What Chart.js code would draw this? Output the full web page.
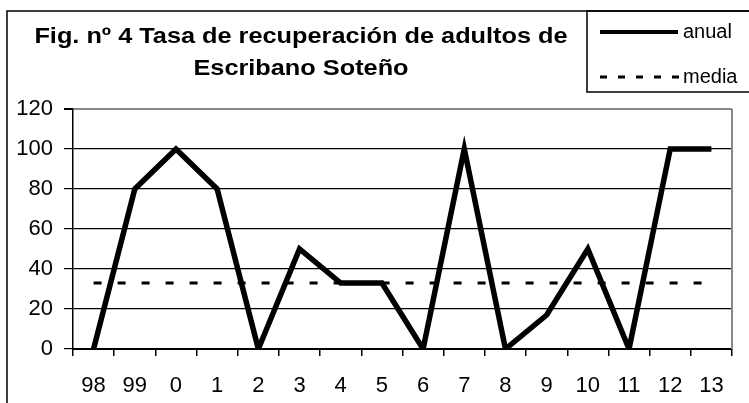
<!DOCTYPE html>
<html lang="es">
<head>
  <meta charset="utf-8">
  <script src="https://cdn.jsdelivr.net/npm/chart.js@4.4.0/dist/chart.umd.min.js"></script>
  <style>
    html, body { margin: 0; padding: 0; background: #fff; }
    .wrap { width: 749px; height: 403px; }
  </style>
</head>
<body>
  <div class="wrap">
    <canvas id="tasaChart" width="749" height="403"></canvas>
  </div>

  <script>
    // datos
    const years = ['98', '99', '0', '1', '2', '3', '4', '5', '6', '7', '8', '9', '10', '11', '12', '13'];
    const anual = [0, 80, 100, 80, 0, 50, 33, 33, 0, 100, 0, 17, 50, 0, 100, 100];
    const media = [33, 33, 33, 33, 33, 33, 33, 33, 33, 33, 33, 33, 33, 33, 33, 33];
    const yTicks = [0, 20, 40, 60, 80, 100, 120];

    const titleLines = ['Fig. nº 4 Tasa de recuperación de adultos de', 'Escribano Soteño'];
    const legendLabels = ['anual', 'media'];

    const FONT = "'Liberation Sans', Arial, sans-serif";

    // marco exterior, titulo, leyenda y borde derecho del area
    const frame = {
      id: 'frame',
      afterDraw(chart) {
        const c = chart.ctx;
        const a = chart.chartArea;
        c.save();
        c.strokeStyle = '#000';
        c.lineWidth = 1.5;
        c.strokeRect(7, 11, 780, 420);

        // borde derecho gris
        c.strokeStyle = '#888';
        c.lineWidth = 2;
        c.beginPath();
        c.moveTo(a.right, a.top);
        c.lineTo(a.right, a.bottom);
        c.stroke();

        // titulo (algo ensanchado como en la figura)
        c.fillStyle = '#000';
        c.font = 'bold 22px ' + FONT;
        c.textAlign = 'center';
        c.textBaseline = 'alphabetic';
        c.save();
        c.translate(301, 0);
        c.scale(1.15, 1);
        c.fillText(titleLines[0], 0, 43);
        c.fillText(titleLines[1], 0, 75);
        c.restore();

        // leyenda
        c.strokeStyle = '#000';
        c.lineWidth = 1.5;
        c.strokeRect(587, 11, 200, 81);
        c.lineWidth = 4;
        c.beginPath();
        c.moveTo(600, 32);
        c.lineTo(678, 32);
        c.stroke();
        c.lineWidth = 3;
        c.setLineDash([7, 11]);
        c.beginPath();
        c.moveTo(600, 77);
        c.lineTo(680, 77);
        c.stroke();
        c.setLineDash([]);
        c.font = '20px ' + FONT;
        c.textAlign = 'left';
        c.textBaseline = 'middle';
        c.fillText(legendLabels[0], 683, 32);
        c.fillText(legendLabels[1], 683, 77);
        c.restore();
      }
    };

    const ctx = document.getElementById('tasaChart').getContext('2d');
    const chart = new Chart(ctx, {
      type: 'line',
      data: {
        labels: years,
        datasets: [
          {
            label: legendLabels[0],
            data: anual,
            borderColor: '#000',
            borderWidth: 5.5,
            tension: 0,
            pointRadius: 0,
            borderJoinStyle: 'miter',
            fill: false
          },
          {
            label: legendLabels[1],
            data: media,
            borderColor: '#000',
            borderWidth: 3,
            borderDash: [8, 16],
            pointRadius: 0,
            fill: false
          }
        ]
      },
      options: {
        responsive: false,
        animation: false,
        devicePixelRatio: 1,
        layout: { padding: { top: 109, right: 17, bottom: 0, left: 0 } },
        plugins: {
          legend: { display: false },
          title: { display: false },
          tooltip: { enabled: false }
        },
        scales: {
          x: {
            offset: true,
            afterFit(scale) { scale.height = 54; },
            grid: {
              offset: true,
              drawOnChartArea: false,
              drawTicks: true,
              tickLength: 7,
              color: '#000',
              lineWidth: 1.5
            },
            border: { display: true, color: '#000', width: 2 },
            ticks: {
              color: '#000',
              font: { family: FONT, size: 22 },
              padding: 17,
              maxRotation: 0,
              autoSkip: false
            }
          },
          y: {
            min: 0,
            max: 120,
            afterFit(scale) { scale.width = 73; },
            afterBuildTicks(scale) {
              scale.ticks = yTicks.map(v => ({ value: v }));
            },
            grid: {
              color: c => (c.tick && c.tick.value === 120) ? '#888' : '#000',
              tickColor: '#000',
              lineWidth: c => (c.tick && c.tick.value === 120) ? 2 : 1.2,
              drawTicks: true,
              tickLength: 9
            },
            border: { display: true, color: '#000', width: 1.5 },
            ticks: {
              color: '#000',
              font: { family: FONT, size: 22 },
              padding: 11
            }
          }
        }
      },
      plugins: [frame]
    });
  </script>
</body>
</html>
